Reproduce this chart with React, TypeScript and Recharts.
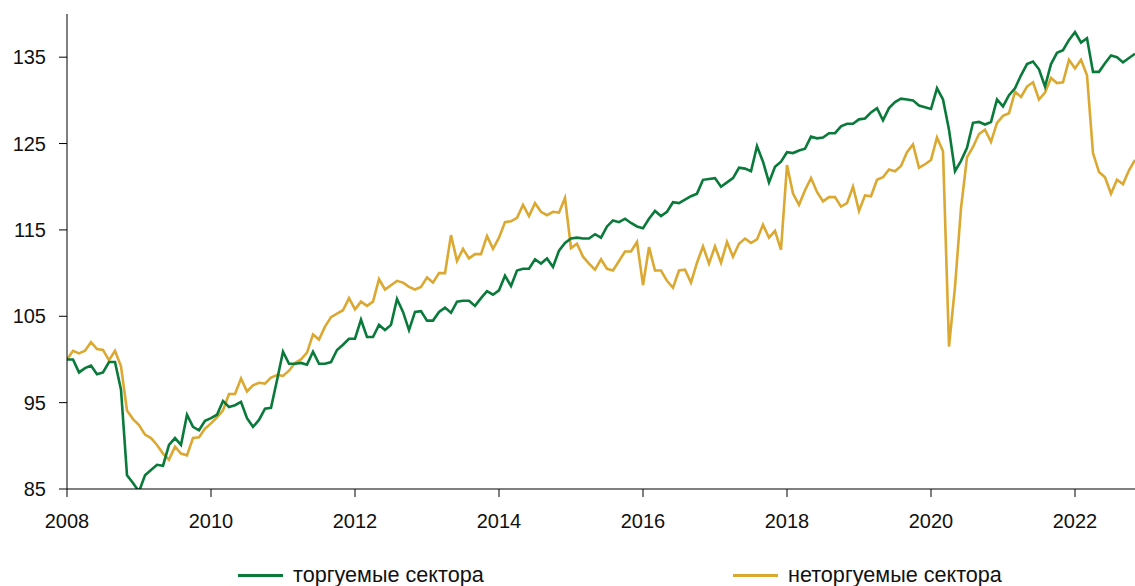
import { LineChart, Line, XAxis, YAxis } from "recharts";

// monthly index, Jan 2008 = 100
const START_YEAR = 2008;

const tradable = [
  100.0, 100.0, 98.5, 99.0, 99.3, 98.3, 98.5, 99.7, 99.7, 96.5, 86.6, 85.7,
  84.7, 86.6, 87.2, 87.8, 87.7, 90.1, 90.9, 90.1, 93.6, 92.2, 91.8, 92.9,
  93.2, 93.6, 95.2, 94.5, 94.7, 95.1, 93.2, 92.2, 93.0, 94.3, 94.4, 97.6,
  100.9, 99.5, 99.5, 99.6, 99.4, 100.9, 99.5, 99.5, 99.7, 101.1, 101.7, 102.4,
  102.4, 104.6, 102.6, 102.6, 104.0, 103.4, 104.0, 107.0, 105.5, 103.4, 105.5, 105.6,
  104.5, 104.5, 105.5, 106.0, 105.4, 106.7, 106.8, 106.8, 106.2, 107.1, 107.9, 107.5,
  108.0, 109.7, 108.5, 110.3, 110.5, 110.5, 111.6, 111.1, 111.7, 110.7, 112.6, 113.5,
  114.0, 114.1, 114.0, 114.0, 114.5, 114.1, 115.4, 116.1, 115.9, 116.3, 115.8, 115.4,
  115.2, 116.3, 117.2, 116.6, 117.1, 118.2, 118.1, 118.5, 118.9, 119.2, 120.8, 120.9,
  121.0, 120.0, 120.5, 121.0, 122.2, 122.1, 121.8, 124.7, 122.9, 120.5, 122.3, 122.9,
  124.0, 123.9, 124.2, 124.4, 125.8, 125.6, 125.7, 126.2, 126.2, 127.0, 127.3, 127.3,
  127.8, 127.9, 128.6, 129.1, 127.7, 129.1, 129.8, 130.2, 130.1, 130.0, 129.4, 129.2,
  129.0, 131.4, 130.1, 126.6, 121.8, 123.0, 124.5, 127.4, 127.5, 127.2, 127.5, 130.1,
  129.3, 130.6, 131.4, 132.9, 134.2, 134.5, 133.6, 131.6, 134.2, 135.5, 135.8, 137.0,
  137.9, 136.7, 137.2, 133.3, 133.3, 134.3, 135.2, 135.0, 134.4, 134.9, 135.4,
];

const nonTradable = [
  100.0, 101.0, 100.7, 101.0, 102.0, 101.2, 101.1, 99.9, 101.0, 99.2, 94.1, 93.1,
  92.4, 91.3, 90.9, 90.1, 89.1, 88.4, 89.9, 89.1, 88.9, 90.9, 91.0, 92.0,
  92.6, 93.3, 94.1, 96.0, 96.0, 97.8, 96.3, 97.0, 97.3, 97.2, 97.9, 98.2,
  98.1, 98.7, 99.6, 100.0, 100.8, 102.9, 102.3, 103.8, 104.9, 105.3, 105.7, 107.1,
  105.8, 106.7, 106.2, 106.7, 109.3, 108.1, 108.6, 109.1, 108.9, 108.4, 108.1, 108.4,
  109.5, 108.9, 110.0, 110.0, 114.4, 111.4, 112.8, 111.7, 112.2, 112.2, 114.3, 112.8,
  114.1, 115.9, 116.0, 116.4, 117.9, 116.6, 118.1, 117.1, 116.7, 117.1, 117.0, 118.7,
  112.9, 113.4, 111.9, 111.1, 110.4, 111.6, 110.5, 110.3, 111.4, 112.5, 112.5, 113.6,
  108.6, 113.0, 110.3, 110.3, 109.1, 108.3, 110.3, 110.4, 108.9, 111.2, 113.1, 111.1,
  113.1, 111.2, 113.6, 111.9, 113.4, 114.0, 113.5, 113.9, 115.6, 114.1, 114.9, 112.7,
  122.5, 119.2, 117.9, 119.6, 121.0, 119.4, 118.3, 118.8, 118.8, 117.7, 118.1, 120.0,
  117.2, 119.0, 118.9, 120.8, 121.1, 122.0, 121.8, 122.4, 124.0, 124.9, 122.2, 122.6,
  123.1, 125.7, 124.1, 101.5, 108.4, 117.5, 123.4, 124.6, 126.1, 126.6, 125.2, 127.4,
  128.2, 128.5, 131.0, 130.4, 131.6, 132.1, 130.1, 130.9, 132.6, 132.0, 132.1, 134.7,
  133.7, 134.7, 132.9, 123.9, 121.7, 121.1, 119.2, 120.8, 120.3, 121.9, 123.1,
];

const yearTicks = [2008, 2010, 2012, 2014, 2016, 2018, 2020, 2022];
const valueTicks = [85, 95, 105, 115, 125, 135];

const GREEN = "#0a7a3b";
const YELLOW = "#dba832";
const FONT = "'Liberation Sans', Arial, Helvetica, sans-serif";

const data = tradable.map((v, i) => ({
  t: i,
  tradable: v,
  nonTradable: nonTradable[i],
}));

const monthTicks = yearTicks.map((y) => (y - START_YEAR) * 12);

function LegendItem({ left, color, label }: { left: number; color: string; label: string }) {
  return (
    <div style={{ position: "absolute", left, top: 562, display: "flex", alignItems: "center" }}>
      <div style={{ width: 45, height: 3, background: color, marginRight: 10 }} />
      <span style={{ fontSize: 21.6, color: "#111", lineHeight: "26px" }}>{label}</span>
    </div>
  );
}

export default function App() {
  return (
    <div
      style={{
        position: "absolute",
        left: 0,
        top: 0,
        width: 1135,
        height: 586,
        overflow: "hidden",
        fontFamily: FONT,
        background: "#fff",
      }}
    >
      <LineChart
        width={1135}
        height={586}
        data={data}
        margin={{ top: 14, right: 0, bottom: 57, left: 0 }}
      >
        <XAxis
          dataKey="t"
          type="number"
          domain={[0, 178]}
          ticks={monthTicks}
          tickFormatter={(t: number) => String(START_YEAR + t / 12)}
          height={40}
          tickSize={8}
          tickMargin={17}
          stroke="#000"
          tick={{ fill: "#111", fontSize: 20, fontFamily: FONT }}
          allowDataOverflow
        />
        <YAxis
          type="number"
          domain={[85, 140]}
          ticks={valueTicks}
          width={67}
          tickSize={8}
          tickMargin={13}
          stroke="#000"
          tick={{ fill: "#111", fontSize: 20, fontFamily: FONT }}
          allowDataOverflow
        />
        <Line
          type="linear"
          dataKey="nonTradable"
          stroke={YELLOW}
          strokeWidth={2.6}
          dot={false}
          isAnimationActive={false}
        />
        <Line
          type="linear"
          dataKey="tradable"
          stroke={GREEN}
          strokeWidth={2.6}
          dot={false}
          isAnimationActive={false}
        />
      </LineChart>
      <LegendItem left={238} color={GREEN} label="торгуемые сектора" />
      <LegendItem left={733} color={YELLOW} label="неторгуемые сектора" />
    </div>
  );
}
